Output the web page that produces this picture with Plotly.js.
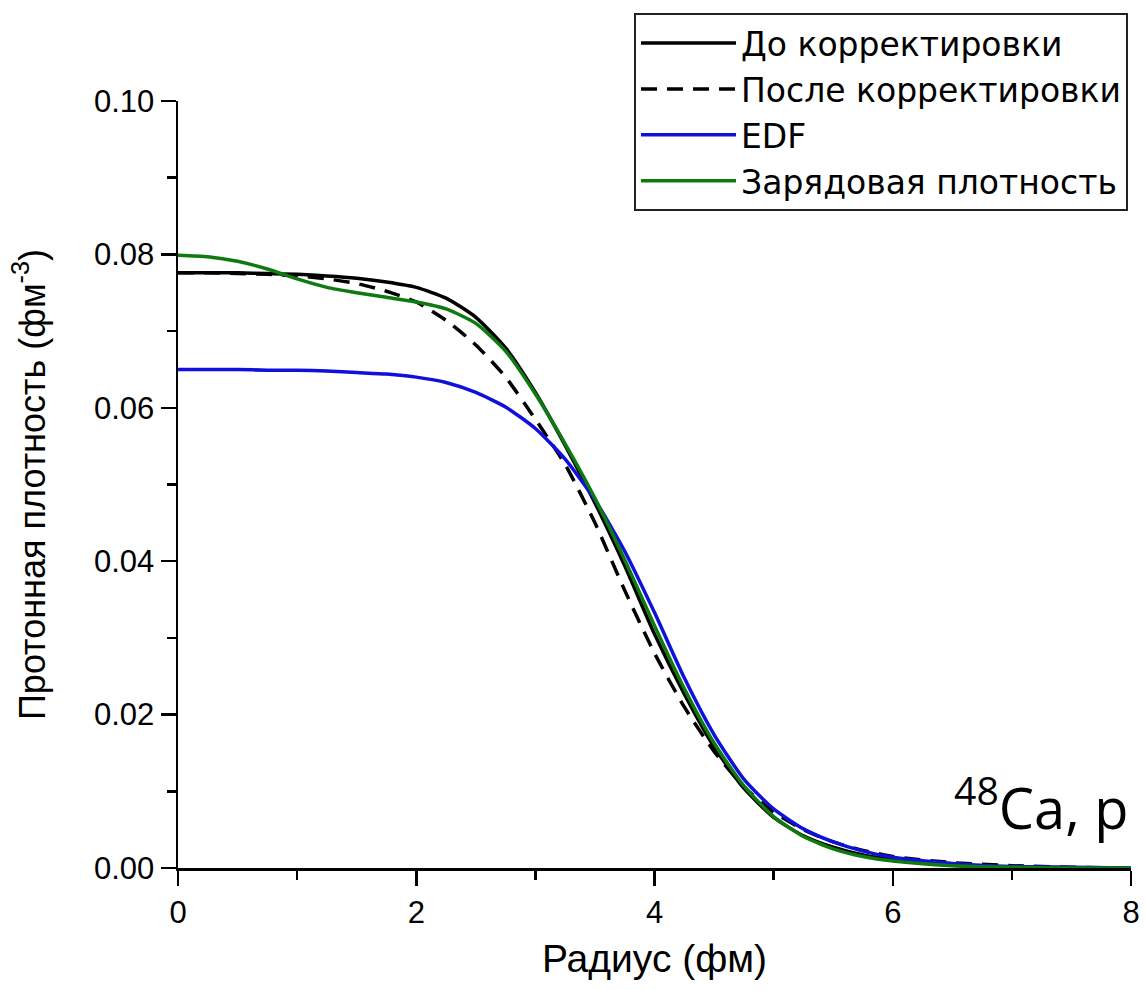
<!DOCTYPE html>
<html>
<head>
<meta charset="utf-8">
<script src="https://cdn.plot.ly/plotly-3.0.1.min.js"></script>
<style>html,body{margin:0;padding:0;background:#fff;}#chart{width:1145px;height:990px;}</style>
</head>
<body>
<div id="chart"></div>
<script>
// Radius (fm)
const radius = [0, 0.25, 0.5, 0.75, 1.0, 1.25, 1.5, 1.75, 2.0, 2.25, 2.5, 2.75, 3.0, 3.25, 3.5, 3.75, 4.0, 4.25, 4.5, 4.75, 5.0, 5.25, 5.5, 5.75, 6.0, 6.5, 7.0, 7.5, 8.0];

// Before correction (solid black)
const beforeCorr = [0.0776, 0.0776, 0.0776, 0.0775, 0.0774, 0.0772, 0.0769, 0.0764, 0.0757, 0.0743, 0.0718, 0.0678, 0.0620, 0.0551, 0.0476, 0.0394, 0.0305, 0.0227, 0.0158, 0.0104, 0.0066, 0.0042, 0.0027, 0.0017, 0.0011, 0.0004, 0.0001, 0.00003, 0.0];

// After correction (dashed black)
const afterCorr = [0.0776, 0.0776, 0.0775, 0.0774, 0.0772, 0.0768, 0.0762, 0.0752, 0.0738, 0.0714, 0.0682, 0.0640, 0.0585, 0.0526, 0.0450, 0.0362, 0.0280, 0.0210, 0.0152, 0.0106, 0.0073, 0.0050, 0.0034, 0.0023, 0.0015, 0.0007, 0.0003, 0.0001, 0.0];

// EDF (blue)
const edf = [0.0650, 0.0650, 0.0650, 0.0649, 0.0649, 0.0648, 0.0646, 0.0644, 0.0640, 0.0633, 0.0620, 0.0601, 0.0573, 0.0533, 0.0480, 0.0413, 0.0333, 0.0248, 0.0174, 0.0116, 0.0077, 0.0051, 0.0034, 0.0022, 0.0014, 0.0006, 0.0002, 0.0001, 0.0];

// Charge density (green)
const chargeDens = [0.0799, 0.0797, 0.0791, 0.0781, 0.0768, 0.0757, 0.0750, 0.0744, 0.0738, 0.0729, 0.0710, 0.0674, 0.0618, 0.0553, 0.0482, 0.0402, 0.0316, 0.0234, 0.0163, 0.0107, 0.0067, 0.0041, 0.0025, 0.0015, 0.0009, 0.0003, 0.0001, 0.0, 0.0];

const seriesNames = ["До корректировки", "После корректировки", "EDF", "Зарядовая плотность"];
const xTickVals = [0, 2, 4, 6, 8];
const xTickText = ["0", "2", "4", "6", "8"];
const yTickVals = [0.00, 0.02, 0.04, 0.06, 0.08, 0.10];
const yTickText = ["0.00", "0.02", "0.04", "0.06", "0.08", "0.10"];

const FONT = "Arial, 'Liberation Sans', sans-serif";
const WIDE_FONT = "'DejaVu Sans', sans-serif";

const traces = [
  {x: radius, y: beforeCorr, name: seriesNames[0], mode: "lines",
   line: {color: "#000000", width: 3.5, shape: "spline", smoothing: 0.6}},
  {x: radius, y: afterCorr, name: seriesNames[1], mode: "lines",
   line: {color: "#000000", width: 3.5, dash: "16px,10px", shape: "spline", smoothing: 0.6}},
  {x: radius, y: edf, name: seriesNames[2], mode: "lines",
   line: {color: "#1010dd", width: 3.5, shape: "spline", smoothing: 0.6}},
  {x: radius, y: chargeDens, name: seriesNames[3], mode: "lines",
   line: {color: "#0f7a0f", width: 3.5, shape: "spline", smoothing: 0.6}}
];

const layout = {
  width: 1145, height: 990,
  margin: {l: 178, r: 14, t: 101, b: 122, autoexpand: false},
  paper_bgcolor: "#ffffff", plot_bgcolor: "#ffffff",
  font: {family: FONT, color: "#000"},
  showlegend: true,
  legend: {
    x: 0.4785, y: 1.1147, xanchor: "left", yanchor: "top",
    bgcolor: "#ffffff", bordercolor: "#222222", borderwidth: 2,
    font: {family: WIDE_FONT, size: 33, color: "#000"},
    itemwidth: 95, tracegroupgap: 0
  },
  xaxis: {
    range: [0, 8], showgrid: false, zeroline: false,
    showline: true, linecolor: "#000", linewidth: 2.5,
    ticks: "outside", ticklen: 15, tickwidth: 2.5, tickcolor: "#000",
    tickvals: xTickVals, ticktext: xTickText,
    tickfont: {family: FONT, size: 31, color: "#000"},
    minor: {tickvals: [1, 3, 5, 7], ticks: "outside", ticklen: 9, tickwidth: 2.5, tickcolor: "#000"},
    title: {text: "Радиус (фм)", font: {family: FONT, size: 39, color: "#000"}, standoff: 16}
  },
  yaxis: {
    range: [0, 0.1], showgrid: false, zeroline: false,
    showline: true, linecolor: "#000", linewidth: 2.5,
    ticks: "outside", ticklen: 15, tickwidth: 2.5, tickcolor: "#000",
    tickvals: yTickVals, ticktext: yTickText,
    tickfont: {family: FONT, size: 31, color: "#000"},
    minor: {tickvals: [0.01, 0.03, 0.05, 0.07, 0.09], ticks: "outside", ticklen: 9, tickwidth: 2.5, tickcolor: "#000"},
    title: {text: "Протонная плотность (фм<sup>-3</sup>)", font: {family: FONT, size: 36, color: "#000"}, standoff: 38}
  },
  annotations: [{
    xref: "paper", yref: "paper", x: 1, y: 0.084, xanchor: "right", yanchor: "middle",
    text: "<sup>48</sup>Ca, p", showarrow: false,
    font: {family: "'Open Sans', sans-serif", size: 56, color: "#000"}
  }]
};

Plotly.newPlot("chart", traces, layout, {displayModeBar: false, staticPlot: true});
</script>
</body>
</html>
